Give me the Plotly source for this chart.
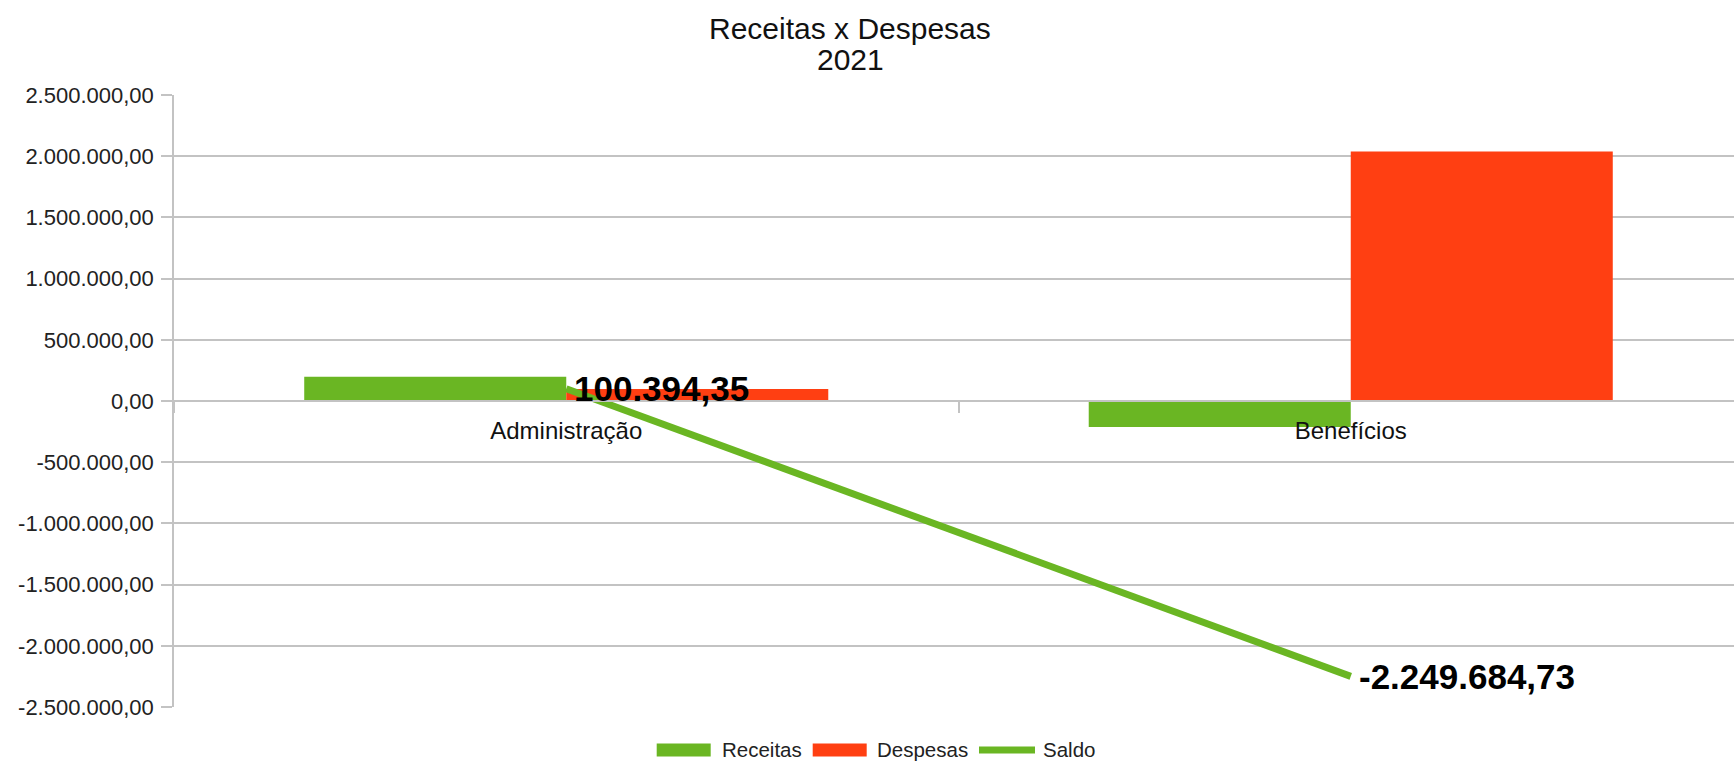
import plotly.graph_objects as go

# ---- data ----
categories = ["Administração", "Benefícios"]
receitas = [199000, -212000]
despesas = [98600, 2037700]
saldo = [100394.35, -2249684.73]
y_ticks = [2500000, 2000000, 1500000, 1000000, 500000, 0,
           -500000, -1000000, -1500000, -2000000, -2500000]
title_lines = ["Receitas x Despesas", "2021"]
series_names = ["Receitas", "Despesas", "Saldo"]


def br(v):
    s = f"{abs(v):,.2f}".replace(",", "X").replace(".", ",").replace("X", ".")
    return ("-" if v < 0 else "") + s


GREEN = "#6ab623"
RED = "#ff3f12"
GRID = "#c3c3c3"
FONT = "Liberation Sans, Arial, sans-serif"

W, H = 1734, 762
L, R, T, B = 174, 0, 95, 55
PW, PH = W - L - R, H - T - B


def px(x):
    return (x - L) / PW


def py(y):
    return (H - B - y) / PH


fig = go.Figure()
fig.add_trace(go.Bar(x=categories, y=receitas, name=series_names[0],
                     marker=dict(color=GREEN, line=dict(width=0))))
fig.add_trace(go.Bar(x=categories, y=despesas, name=series_names[1],
                     marker=dict(color=RED, line=dict(width=0))))
fig.add_trace(go.Scatter(x=categories, y=saldo, name=series_names[2],
                         mode="lines", line=dict(color=GREEN, width=7),
                         cliponaxis=False))

# value labels of Saldo
for c, v in zip(categories, saldo):
    fig.add_annotation(x=c, y=v, xref="x", yref="y", text=br(v),
                       xanchor="left", yanchor="middle", showarrow=False,
                       xshift=6, yshift=0,
                       font=dict(family=FONT, size=35, color="#000000",
                                 weight="bold"))

cat_px = 784.5
fig.update_layout(
    width=W, height=H,
    margin=dict(l=L, r=R, t=T, b=B, pad=0),
    paper_bgcolor="white", plot_bgcolor="white",
    font=dict(family=FONT, color="#222222"),
    showlegend=False,
    barmode="group", bargap=0.332, bargroupgap=0,
    xaxis=dict(type="category", range=[-0.5, -0.5 + PW / cat_px],
               anchor="free", position=0.5,
               showline=True, linecolor=GRID, linewidth=1.5,
               showgrid=False, zeroline=False,
               ticks="outside", tickson="boundaries", ticklen=11,
               tickcolor=GRID, tickwidth=1.5, ticklabelstandoff=8,
               tickfont=dict(family=FONT, size=24, color="#111111")),
    yaxis=dict(range=[-2500000, 2500000], tickvals=y_ticks,
               ticktext=[br(v) for v in y_ticks],
               showgrid=True, gridcolor=GRID, gridwidth=1.5,
               zeroline=True, zerolinecolor=GRID, zerolinewidth=1.5,
               showline=True, linecolor=GRID, linewidth=1.5,
               ticks="outside", ticklen=11, tickcolor=GRID, tickwidth=1.5,
               ticklabelstandoff=3,
               tickfont=dict(family=FONT, size=22, color="#222222")),
)

# title as two centred lines
for line, yc in zip(title_lines, [29, 60]):
    fig.add_annotation(xref="paper", yref="paper", x=px(850), y=py(yc),
                       xanchor="center", yanchor="middle", showarrow=False,
                       text=line, font=dict(family=FONT, size=30, color="#111111"))

# custom legend
legend_items = [
    (656.7, 710.7, 13, GREEN, 720, series_names[0]),
    (812.7, 866.7, 13, RED, 875, series_names[1]),
    (979, 1035, 7, GREEN, 1040.7, series_names[2]),
]
cy = 750
for x0, x1, h, col, tx, name in legend_items:
    fig.add_shape(type="rect", xref="paper", yref="paper",
                  x0=px(x0), x1=px(x1), y0=py(cy + h / 2), y1=py(cy - h / 2),
                  fillcolor=col, line=dict(width=0))
    fig.add_annotation(xref="paper", yref="paper", x=px(tx), y=py(cy - 1),
                       xanchor="left", yanchor="middle", showarrow=False,
                       text=name, font=dict(family=FONT, size=20.5, color="#222222"))

fig.write_html(
    "out.html",
    config={"displayModeBar": False},
    post_script="document.body.style.margin='0';document.body.style.overflow='hidden';",
)
